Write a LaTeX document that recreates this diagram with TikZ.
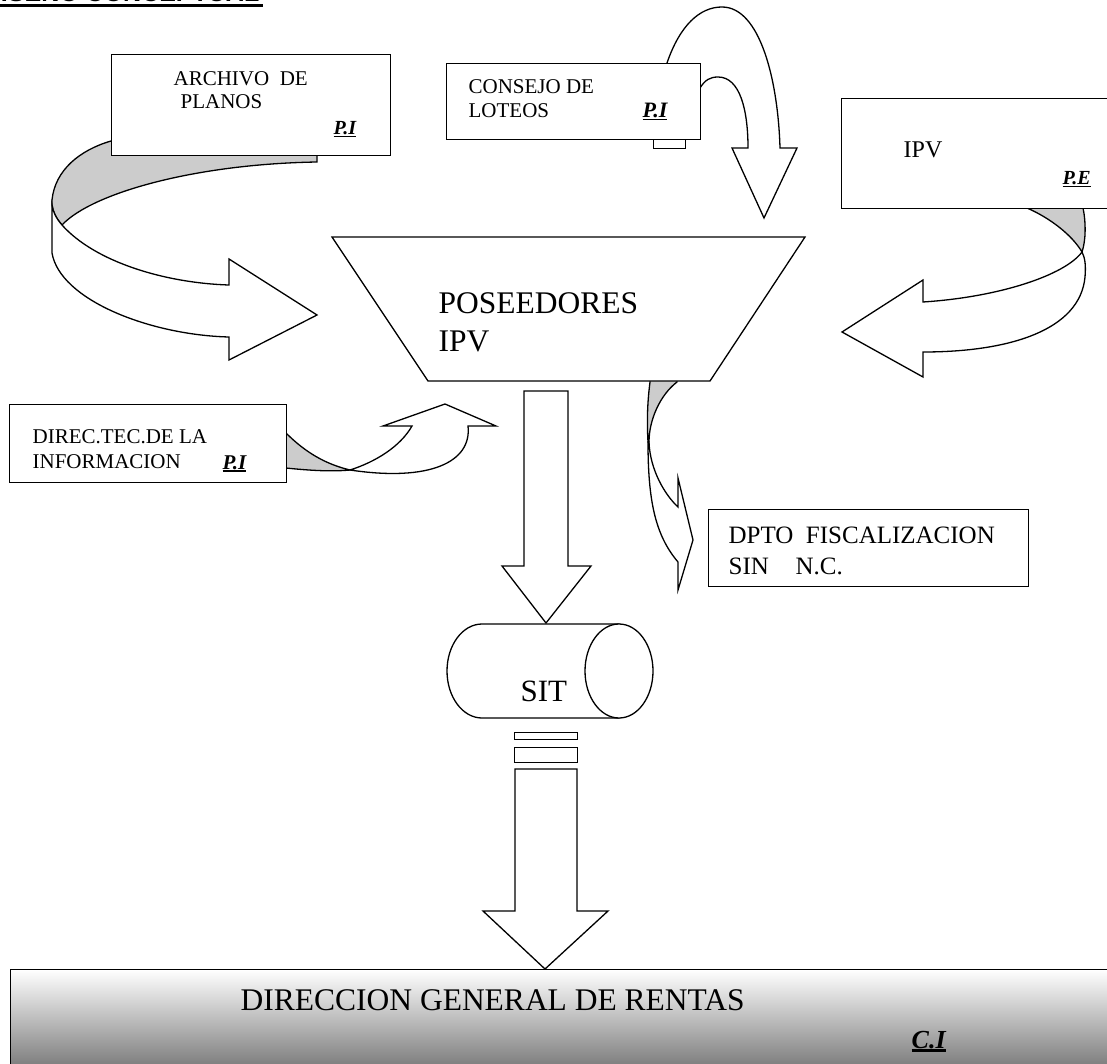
\documentclass[tikz,border=0pt]{standalone}
\usepackage{fontspec}
\setmainfont{Liberation Serif}
\newfontfamily\titlefont{Liberation Sans}
\newsavebox\lblbox
\newcommand{\ulbi}[3]{\sbox\lblbox{\bfseries\itshape #1}\rlap{\rule[-#2]{\wd\lblbox}{#3}}\usebox\lblbox}
\begin{document}
\begin{tikzpicture}[x=1pt,y=-1pt, line width=1.3pt, line join=miter,
  boxst/.style={draw, fill=white, rectangle, inner sep=0pt, anchor=north west},
  txt/.style={anchor=base west, inner sep=0pt, font=\fontsize{21}{25}\selectfont},
  arrowst/.style={draw, fill=white},
  backst/.style={draw, fill=black!20}]
\useasboundingbox (0,0) rectangle (1107,1064);
\clip (0,0) rectangle (1107,1064);

% title (cut off at the top)
\node[anchor=base east, inner sep=0pt, font=\titlefont\bfseries\fontsize{25}{30}\selectfont] (title) at (260,2) {DISEÑO CONCEPTUAL};
\draw[line width=3pt] (0,5.5) -- (263,5.5);

% ---- ARCHIVO DE PLANOS with curved arrow
\path[backst] (317,120) -- (317,162) .. controls (195,164) and (92,193) .. (62,225)
  .. controls (56,218) and (53,212) .. (52,205) -- (52,200)
  .. controls (55,170) and (80,150) .. (111,141) .. controls (170,125) and (250,120) .. (317,120) -- cycle;
\path[arrowst] (62,225) .. controls (95,262) and (165,283) .. (229,285) -- (229,259) -- (317,315)
  -- (229,360) -- (229,337) .. controls (150,335) and (60,300) .. (52,253) -- (52,205)
  .. controls (53,212) and (56,218) .. (62,225) -- cycle;
\node[boxst, minimum width=279pt, minimum height=101pt] (archivo) at (111,54) {};
\node[txt] (archivoA) at (173,86) {ARCHIVO\ \ DE};
\node[txt] (archivoB) at (180,109) {PLANOS};
\node[txt, font=\fontsize{20}{24}\selectfont] (archivoC) at (333,135) {\ulbi{P.I}{2.5pt}{1.8pt}};

% ---- CONSEJO DE LOTEOS with curved arrow
\path[arrowst] (680,90) -- (667,80) -- (667,63) .. controls (680,25) and (700,7) .. (722,7)
  .. controls (760,7) and (778,80) .. (780,148) -- (797,148) -- (764,218) -- (732,148) -- (748,148)
  .. controls (748,110) and (740,77) .. (718,77) .. controls (710,77) and (705,80) .. (700,88) -- cycle;
\node[boxst, minimum width=32pt, minimum height=9pt] (consejotab) at (653,139) {};
\node[boxst, minimum width=254pt, minimum height=76pt] (consejo) at (446,63) {};
\node[txt] (consejoA) at (468,94) {CONSEJO DE};
\node[txt] (consejoB) at (468,118) {LOTEOS};
\node[txt, font=\fontsize{22}{26}\selectfont] (consejoC) at (642,118) {\ulbi{P.I}{2.5pt}{1.8pt}};

% ---- IPV with curved arrow
\path[arrowst] (1082,252) .. controls (1065,275) and (1000,297) .. (923,302) -- (923,280) -- (842,332)
  -- (923,377) -- (923,352) .. controls (1010,352) and (1080,330) .. (1085,277)
  .. controls (1086,265) and (1085,258) .. (1082,252) -- cycle;
\path[backst] (1027,200) -- (1027,208) .. controls (1050,218) and (1072,235) .. (1082,252)
  .. controls (1086,240) and (1086,222) .. (1083,208) -- (1083,200) -- cycle;
\node[boxst, minimum width=279pt, minimum height=110pt] (ipv) at (841,98) {};
\node[txt, font=\fontsize{24}{28}\selectfont] (ipvA) at (903,158) {IPV};
\node[txt, font=\fontsize{20}{24}\selectfont] (ipvB) at (1062,185) {\ulbi{P.E}{2.5pt}{1.8pt}};

% ---- arrow from POSEEDORES to DPTO
\path[backst] (650,376) -- (650,382) .. controls (647,405) and (647,425) .. (648,442) -- (649,442)
  .. controls (649,420) and (660,395) .. (677,382) -- (677,376) -- cycle;
\path[arrowst] (648,442) .. controls (648,500) and (655,535) .. (678,562) -- (678,590) -- (693,540)
  -- (678,478) -- (678,507) .. controls (665,495) and (650,470) .. (649,442) -- cycle;

% ---- POSEEDORES trapezoid
\path[draw, fill=white] (332,237) coordinate (posA) -- (805,237) -- (710,381) -- (428,381) -- cycle;
\node[txt, font=\fontsize{31.5}{38}\selectfont] (posT1) at (438,313) {POSEEDORES};
\node[txt, font=\fontsize{31.5}{38}\selectfont] (posT2) at (438,351) {IPV};

% ---- main down arrow
\path[arrowst] (524,391) -- (568,391) -- (568,566) -- (591,566) -- (546,623) -- (502,566) -- (524,566) -- cycle;

% ---- DIREC.TEC with curved arrow
\path[backst] (280,433) -- (286,433) .. controls (305,452) and (325,464) .. (350,470)
  .. controls (330,472) and (305,470) .. (286,468) -- (280,468) -- cycle;
\path[arrowst] (350,470) .. controls (375,462) and (400,447) .. (412,426) -- (383,426) -- (445,404)
  -- (496,426) -- (468,426) .. controls (472,462) and (430,482) .. (350,470) -- cycle;
\node[boxst, minimum width=277pt, minimum height=78pt] (direc) at (9,404) {};
\node[txt] (direcA) at (32,443) {DIREC.TEC.DE LA};
\node[txt] (direcB) at (32,468) {INFORMACION};
\node[txt, font=\fontsize{21}{25}\selectfont] (direcC) at (222,469) {\ulbi{P.I}{2.5pt}{1.8pt}};

% ---- DPTO FISCALIZACION
\node[boxst, minimum width=320pt, minimum height=77pt] (dpto) at (708,509) {};
\node[txt, font=\fontsize{25}{30}\selectfont] (dptoA) at (728,543) {DPTO\ \ FISCALIZACION};
\node[txt, font=\fontsize{25}{30}\selectfont] (dptoB) at (728,574) {SIN};
\node[txt, font=\fontsize{25}{30}\selectfont] (dptoC) at (795,574) {N.C.};

% ---- SIT cylinder
\path[arrowst] (619,624) -- (482,624) arc[start angle=90, end angle=270, x radius=35pt, y radius=47pt] -- (619,718) -- cycle;
\path[arrowst] (619,671) ellipse [x radius=34pt, y radius=47pt];
\node[txt, font=\fontsize{31}{37}\selectfont] (sit) at (520,701) {SIT};

\node[boxst, minimum width=63pt, minimum height=7pt] (sitA) at (514,732) {};
\node[boxst, minimum width=63pt, minimum height=15pt] (sitB) at (514,747) {};
\path[arrowst] (515,769) -- (577,769) -- (577,911) -- (608,911) -- (545,969) -- (483,911) -- (515,911) -- cycle;

% ---- DIRECCION GENERAL DE RENTAS
\node[draw, inner sep=0pt, anchor=north west, minimum width=1110pt, minimum height=110pt,
  top color=white, middle color=white!75!black, bottom color=white!42!black] (rentas) at (10,969) {};
\node[txt, font=\fontsize{31.5}{38}\selectfont] (rentasA) at (240,1010) {DIRECCION GENERAL DE RENTAS};
\node[txt, font=\fontsize{26}{31}\selectfont] (rentasB) at (911,1048) {\ulbi{C.I}{4pt}{3pt}};
\end{tikzpicture}
\end{document}
